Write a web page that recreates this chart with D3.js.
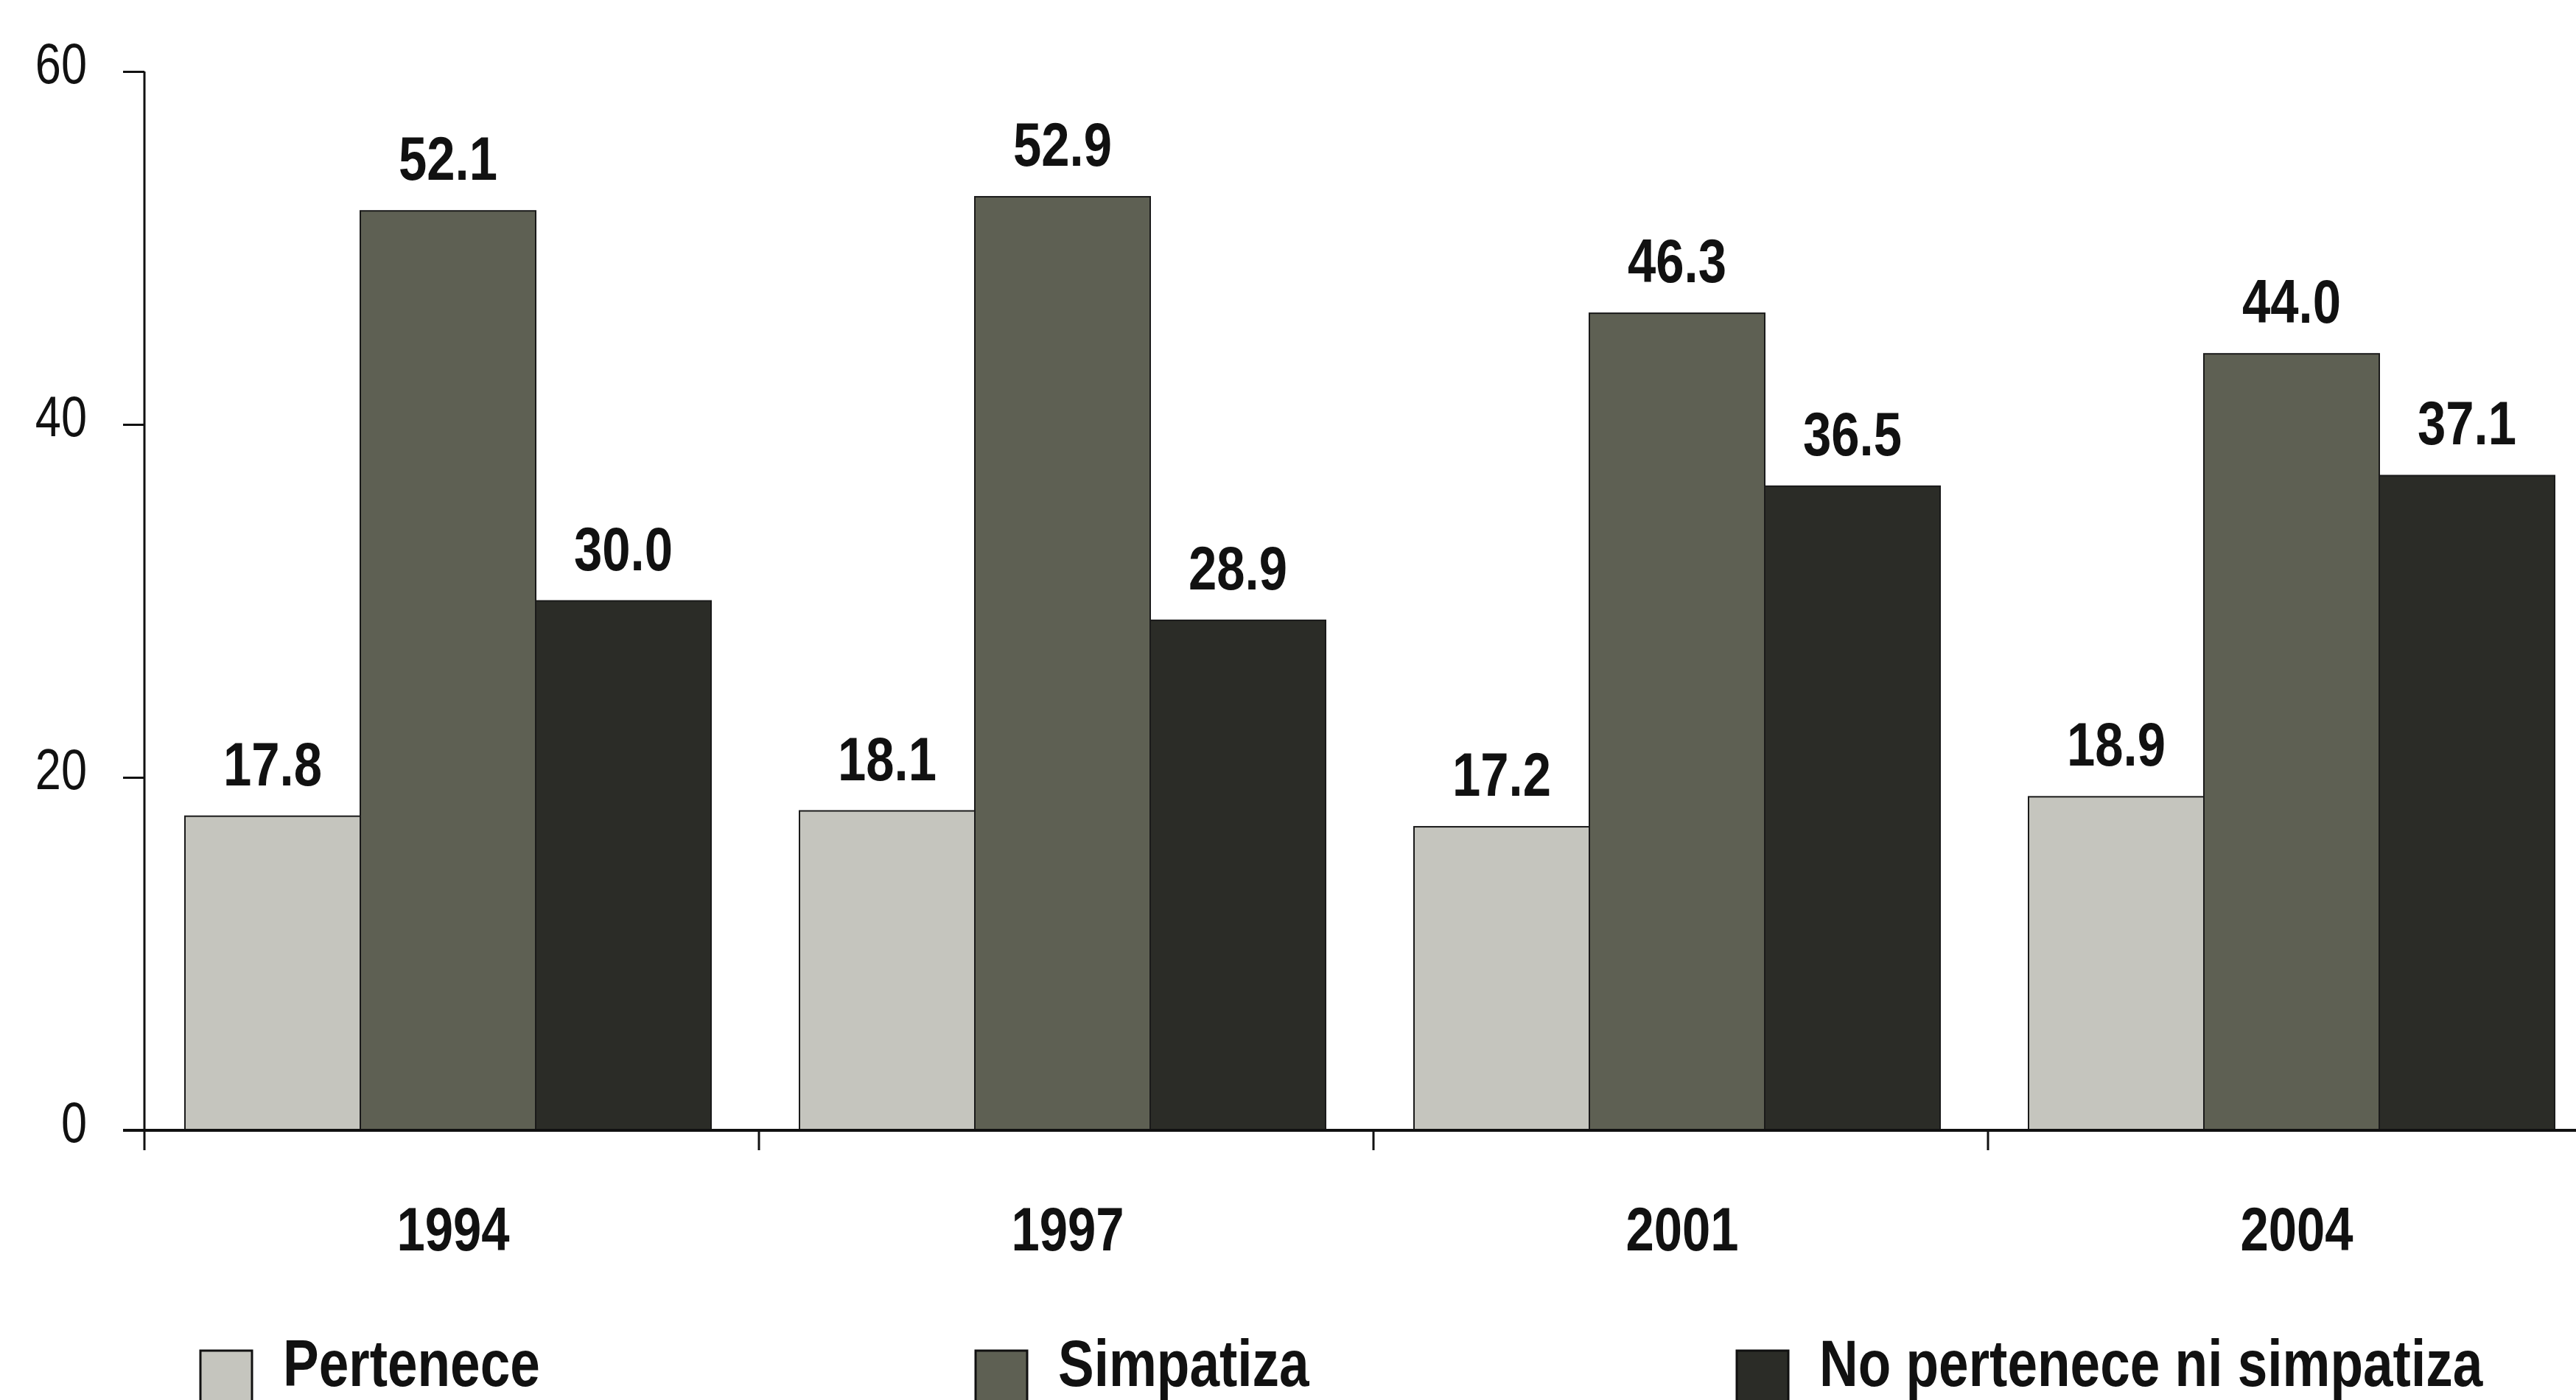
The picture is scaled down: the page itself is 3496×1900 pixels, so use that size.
<!DOCTYPE html>
<html>
<head>
<meta charset="utf-8">
<script src="https://cdn.jsdelivr.net/npm/d3@7"></script>
<style>
  html, body { margin: 0; padding: 0; background: #ffffff; }
  svg { display: block; }
  text { font-family: "Liberation Sans Narrow", "Arial Narrow", "Liberation Sans", sans-serif; fill: #111; }
</style>
</head>
<body>
<svg id="chart" width="3496" height="1900"></svg>
<script>
const years = ["1994", "1997", "2001", "2004"];
const seriesNames = ["Pertenece", "Simpatiza", "No pertenece ni simpatiza"];
const pertenece = [17.8, 18.1, 17.2, 18.9];
const simpatiza = [52.1, 52.9, 46.3, 44.0];
const noPertenece = [30.0, 28.9, 36.5, 37.1];
const yTicks = [0, 20, 40, 60];
const seriesColors = ["#c5c5be", "#5e6053", "#2b2c27"];

const seriesValues = [pertenece, simpatiza, noPertenece];
const NARROW = 0.82;

const svg = d3.select("#chart");
const x0 = 196, y0 = 1534, yTop = 97;
const band = 834;

const x = d3.scaleBand().domain(years).range([x0, x0 + band * years.length]).padding(0);
const xs = d3.scaleBand().domain(seriesNames).range([55, 55 + 714]).padding(0);
const y = d3.scaleLinear().domain([0, 60]).range([y0, yTop]);

function narrowText(sel, tx, ty) {
  return sel.attr("transform", d => `translate(${tx(d)},${ty(d)}) scale(${NARROW},1)`);
}

// bars
const rows = [];
years.forEach((yr, i) => {
  seriesNames.forEach((s, j) => rows.push({ year: yr, series: s, j, value: seriesValues[j][i] }));
});

const g = svg.append("g");
g.selectAll("rect.bar").data(rows).enter().append("rect")
  .attr("class", "bar")
  .attr("x", d => x(d.year) + xs(d.series))
  .attr("y", d => y(d.value))
  .attr("width", xs.bandwidth())
  .attr("height", d => y(0) - y(d.value))
  .attr("fill", d => seriesColors[d.j])
  .attr("stroke", "#1a1a1a")
  .attr("stroke-width", 2);

// value labels
narrowText(
  g.selectAll("text.val").data(rows).enter().append("text").attr("class", "val"),
  d => x(d.year) + xs(d.series) + xs.bandwidth() / 2,
  d => y(d.value) - 42)
  .attr("text-anchor", "middle")
  .attr("font-size", 84)
  .attr("font-weight", "bold")
  .text(d => d.value.toFixed(1));

// y axis
const yAxis = d3.axisLeft(y).tickValues(yTicks).tickSize(29).tickPadding(49);
const yg = svg.append("g").attr("transform", `translate(${x0},0)`).call(yAxis);
yg.select(".domain").remove();
yg.selectAll(".tick line").attr("stroke", "#111").attr("stroke-width", 3);
yg.selectAll(".tick text")
  .attr("font-size", 77).attr("font-family", null).attr("fill", "#111")
  .attr("x", -(29 + 49) / NARROW)
  .attr("dy", "0.2em")
  .attr("transform", `scale(${NARROW},1)`);
yg.append("line").attr("x1", 0).attr("x2", 0).attr("y1", yTop).attr("y2", y0 + 27)
  .attr("stroke", "#111").attr("stroke-width", 3);

// x axis
const xAxis = d3.axisBottom(x).tickValues([]).tickSize(0);
const xg = svg.append("g").attr("transform", `translate(0,${y0})`).call(xAxis);
xg.select(".domain").remove();
xg.append("line").attr("x1", x0 - 29).attr("x2", 3496).attr("y1", 0).attr("y2", 0)
  .attr("stroke", "#111").attr("stroke-width", 4);
xg.selectAll("line.sep").data(years.slice(1)).enter().append("line").attr("class", "sep")
  .attr("x1", d => x(d)).attr("x2", d => x(d)).attr("y1", 0).attr("y2", 27)
  .attr("stroke", "#111").attr("stroke-width", 3);
narrowText(
  xg.selectAll("text.yr").data(years).enter().append("text").attr("class", "yr"),
  d => x(d) + 55 + 357 + 7,
  d => 163)
  .attr("text-anchor", "middle")
  .attr("font-size", 84)
  .attr("font-weight", "bold")
  .text(d => d);

// legend
const legendX = [272, 1324, 2357];
const lg = svg.append("g");
seriesNames.forEach((s, j) => {
  lg.append("rect").attr("x", legendX[j]).attr("y", 1833).attr("width", 70).attr("height", 74)
    .attr("fill", seriesColors[j]).attr("stroke", "#111").attr("stroke-width", 3);
  lg.append("text").attr("transform", `translate(${legendX[j] + 112},1881) scale(${NARROW},1)`)
    .attr("font-size", 89).attr("font-weight", "bold").text(s);
});
</script>
</body>
</html>
